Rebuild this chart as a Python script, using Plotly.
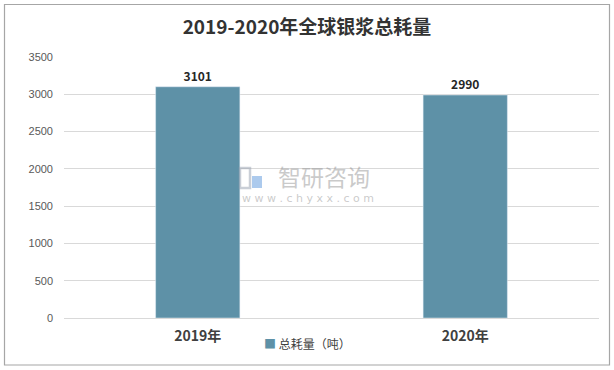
import plotly.graph_objects as go

categories = ["2019年", "2020年"]
values = [3101, 2990]
series_name = "总耗量（吨）"
title = "2019-2020年全球银浆总耗量"

W, H = 614, 370
L, R, T, B = 64, 15, 57, 52
pw, ph = W - L - R, H - T - B

def px(x):
    return (x - L) / pw

def py(y):
    return (H - B - y) / ph

fig = go.Figure()
fig.add_trace(go.Bar(
    x=categories, y=values, name=series_name,
    marker=dict(color="#5E91A7"), width=0.315,
    text=[str(v) for v in values], textposition="outside",
    textfont=dict(family="Noto Sans CJK SC", size=12, color="#262626", weight="bold"),
    cliponaxis=False, showlegend=False,
))

fig.update_layout(
    width=W, height=H,
    margin=dict(l=L, r=R, t=T, b=B),
    paper_bgcolor="white", plot_bgcolor="white",
    title=dict(text="<b>" + title + "</b>", x=0.5, xanchor="center", y=1 - 27 / H, yanchor="middle",
               font=dict(family="Noto Sans CJK SC", size=19, color="#333333")),
    showlegend=False,
    bargap=0.685,
    font=dict(family="Noto Sans CJK SC"),
)
fig.update_xaxes(showgrid=False, showline=False, ticks="",
                 tickfont=dict(family="Noto Sans CJK SC", size=14, color="#404040", weight="bold"),
                 ticklabelstandoff=8)
fig.update_yaxes(range=[0, 3500], dtick=500, showgrid=True, gridcolor="#D9D9D9", gridwidth=1,
                 zeroline=True, zerolinecolor="#D9D9D9", zerolinewidth=1,
                 showline=False, ticks="", ticklabelstandoff=10,
                 tickfont=dict(family="Liberation Sans", size=11, color="#595959"))

# legend (marker + label)
fig.add_annotation(xref="paper", yref="paper", x=px(307), y=py(343), yanchor="middle", xanchor="center",
                   text='<span style="color:#5E91A7">■</span> ' + series_name,
                   showarrow=False, borderpad=0,
                   font=dict(family="Noto Sans CJK SC", size=12, color="#404040"))

# outer border
fig.add_shape(type="rect", xref="paper", yref="paper",
              x0=px(4.5), x1=px(609.5), y0=py(365), y1=py(4.5),
              line=dict(color="#A6A6A6", width=1.2), fillcolor="rgba(0,0,0,0)", layer="below")

# watermark
fig.add_annotation(xref="paper", yref="paper", x=px(324), y=py(176), yanchor="middle", xanchor="center",
                   text="智研咨询", showarrow=False, borderpad=0,
                   font=dict(family="Noto Sans CJK SC", size=23, color="rgba(150,150,150,0.5)"))
fig.add_annotation(xref="paper", yref="paper", x=px(308), y=py(198), yanchor="middle", xanchor="center",
                   text="w w w . c h y x x . c o m", showarrow=False, borderpad=0,
                   font=dict(family="DejaVu Sans", size=11, color="rgba(150,150,150,0.5)"))
# watermark logo (simple blocks)
fig.add_shape(type="rect", xref="paper", yref="paper", x0=px(240), x1=px(250), y0=py(188), y1=py(168),
              line=dict(color="rgba(150,160,175,0.5)", width=2.5), fillcolor="rgba(0,0,0,0)")
fig.add_shape(type="rect", xref="paper", yref="paper", x0=px(252), x1=px(262), y0=py(188), y1=py(176),
              line=dict(width=0), fillcolor="rgba(90,150,220,0.5)")

fig.write_html("out.html", config={"displayModeBar": False},
               post_script="document.body.style.margin='0';")
